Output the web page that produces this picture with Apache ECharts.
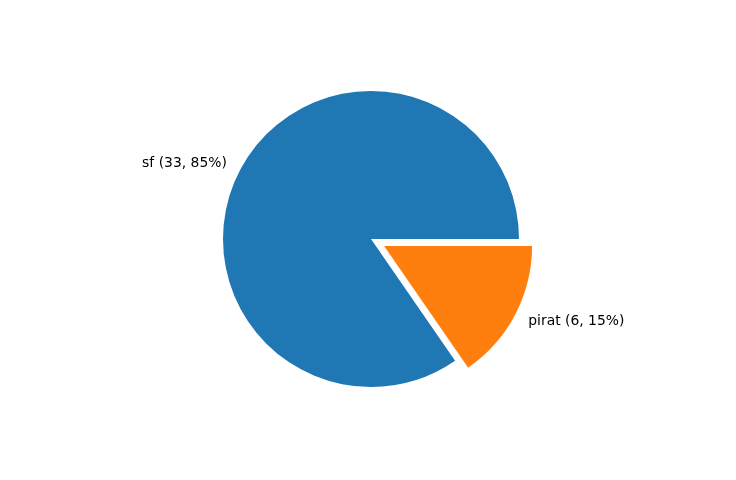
<!DOCTYPE html>
<html>
<head>
<meta charset="utf-8">
<script src="https://cdn.jsdelivr.net/npm/echarts@6/dist/echarts.min.js"></script>
<style>
html, body { margin: 0; padding: 0; background: #fff; }
#chart { width: 736px; height: 480px; }
</style>
</head>
<body>
<div id="chart"></div>
<script>
var names = ['sf', 'pirat'];
var counts = [33, 6];
var colors = ['#1f77b4', '#ff7f0e'];
var explode = [false, true];

var total = counts.reduce(function (a, b) { return a + b; }, 0);
var pieData = [];
for (var i = 0; i < names.length; i++) {
    pieData.push({
        name: names[i],
        value: counts[i],
        selected: explode[i],
        itemStyle: { color: colors[i] },
        select: { itemStyle: { color: colors[i] } }
    });
}

var ech = echarts.init(document.getElementById('chart'));
var option = {
    animation: false,
    series: [
        {
            type: 'pie',
            center: [371, 239],
            radius: 148,
            startAngle: 0,
            clockwise: false,
            selectedMode: 'multiple',
            selectedOffset: 14.8,
            avoidLabelOverlap: false,
            data: pieData,
            label: {
                show: true,
                position: 'outside',
                fontFamily: 'DejaVu Sans',
                fontSize: 13.9,
                color: '#000',
                distanceToLabelLine: 0,
                formatter: function (p) {
                    return p.name + ' (' + p.value + ', ' + Math.round(p.value / total * 100) + '%)';
                }
            },
            labelLine: { show: false, length: 14.8, length2: 0 },
            emphasis: { disabled: true }
        }
    ]
};
ech.setOption(option);
</script>
</body>
</html>
